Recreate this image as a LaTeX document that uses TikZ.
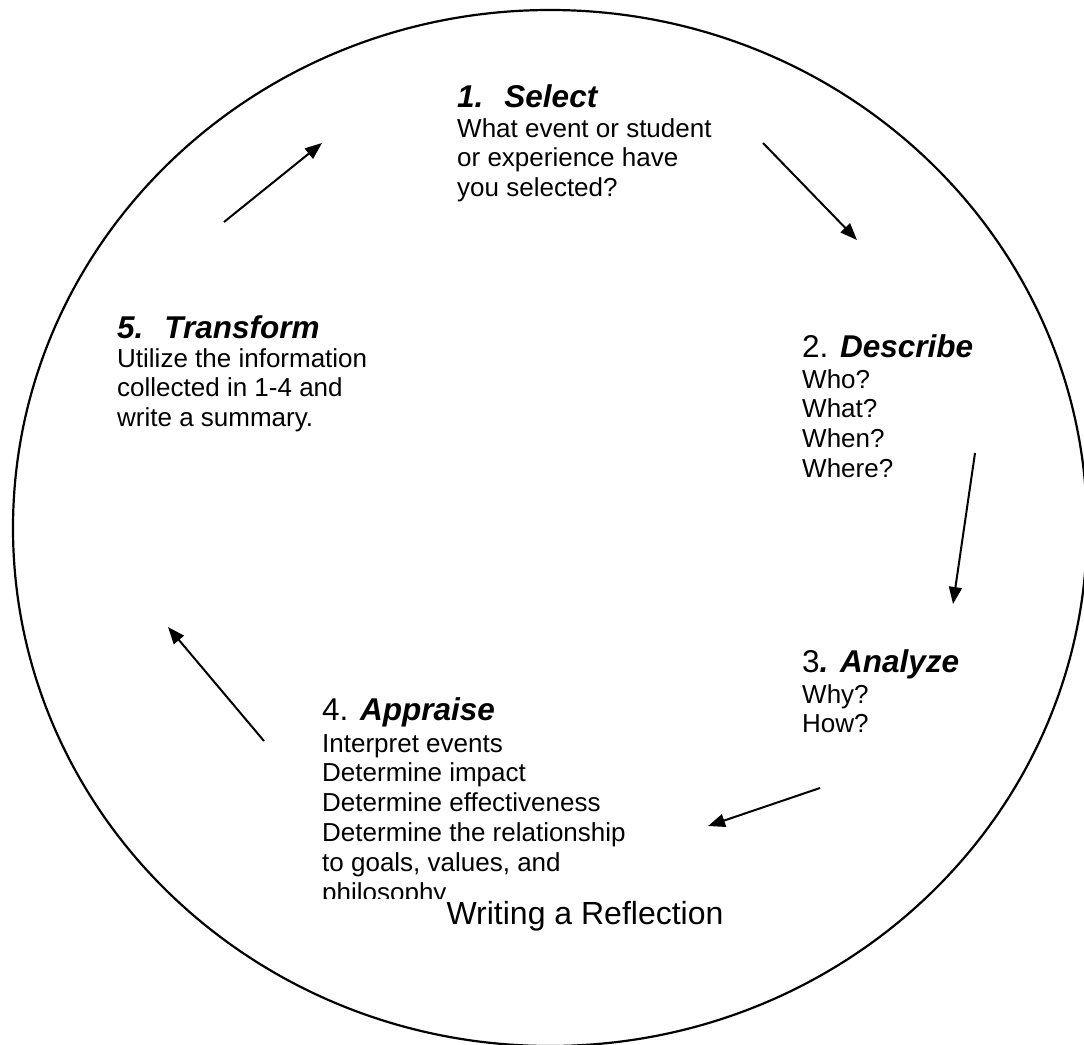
\documentclass[tikz,border=0pt]{standalone}
\usepackage{fontspec}
\setmainfont{Liberation Sans}
\usetikzlibrary{positioning, arrows.meta}

\begin{document}
\begin{tikzpicture}[x=1pt, y=-1pt,
    steptitle/.style={anchor=base west, inner sep=0pt, font=\fontsize{31.5}{36}\selectfont},
    stepbody/.style={anchor=north west, inner sep=0pt, align=left, font=\fontsize{26}{29.8}\selectfont},
    flow/.style={-{Triangle[length=17pt, width=13pt]}, line width=2pt}]
  \useasboundingbox (0,0) rectangle (1084,1044);

  % Outer circle
  \draw[line width=2.2pt] (550,528) ellipse [x radius=537pt, y radius=518pt];

  % Select
  \node[steptitle] (select) at (457,107) {\bfseries\itshape 1.\hspace{21pt}Select};
  \node[stepbody] (selectbody) at (457,118) {What event or student\\or experience have\\you selected?};

  % Describe
  \node[steptitle] (describe) at (802,357) {2. \bfseries\itshape Describe};
  \node[stepbody] (describebody) at (802,369) {Who?\\What?\\When?\\Where?};

  % Analyze
  \node[steptitle] (analyze) at (802,672) {3\bfseries\itshape . Analyze};
  \node[stepbody] (analyzebody) at (802,684) {Why?\\How?};

  % Appraise (last line cut off by the caption box)
  \node[steptitle] (appraise) at (322,720) {4. \bfseries\itshape Appraise};
  \begin{scope}
    \clip (300,700) rectangle (760,898);
    \node[stepbody] (appraisebody) at (322,734) {Interpret events\\Determine impact\\Determine effectiveness\\Determine the relationship\\to goals, values, and\\philosophy};
  \end{scope}

  % Transform
  \node[steptitle] (transform) at (117,338) {\bfseries\itshape 5.\hspace{21pt}Transform};
  \node[stepbody] (transformbody) at (117,348) {Utilize the information\\collected in 1-4 and\\write a summary.};

  % Caption
  \node[anchor=base, inner sep=0pt, font=\fontsize{32}{36}\selectfont] (caption) at (585,924) {Writing a Reflection};

  % Arrows
  \foreach \sx/\sy/\ex/\ey [count=\i] in {224/222/322/143, 763/143/857/240, 975/453/953/604, 820/788/708/826, 264/741/168/627}
  {
    \coordinate (from\i) at (\sx,\sy);
    \coordinate (to\i) at (\ex,\ey);
    \draw[flow] (from\i) -- (to\i);
  }
\end{tikzpicture}
\end{document}
